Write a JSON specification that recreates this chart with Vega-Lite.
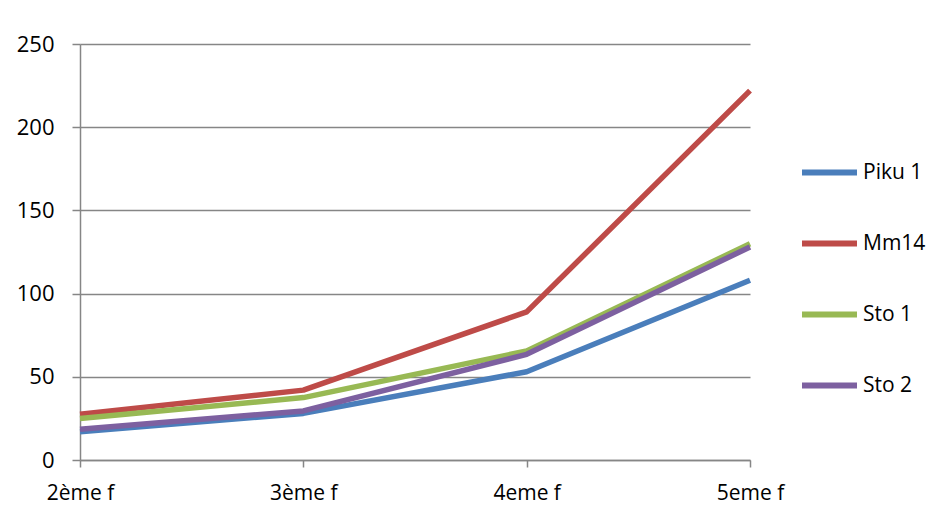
{
  "$schema": "https://vega.github.io/schema/vega-lite/v6.json",
  "width": 670,
  "height": 416,
  "autosize": {"type": "none"},
  "padding": {"left": 80, "top": 44, "right": 185, "bottom": 50},
  "background": "white",
  "config": {
    "view": {"stroke": null},
    "font": "Open Sans",
    "axis": {"labelFont": "Open Sans", "labelColor": "#000000", "domainColor": "#868686", "tickColor": "#868686", "gridColor": "#868686", "domainWidth": 1.5, "tickWidth": 1.5, "gridWidth": 1.5}
  },
  "data": {
    "values": [
      {"etage": "2ème f", "serie": "Piku 1", "valeur": 17},
      {"etage": "3ème f", "serie": "Piku 1", "valeur": 28},
      {"etage": "4eme f", "serie": "Piku 1", "valeur": 53},
      {"etage": "5eme f", "serie": "Piku 1", "valeur": 108},
      {"etage": "2ème f", "serie": "Mm14", "valeur": 27.5},
      {"etage": "3ème f", "serie": "Mm14", "valeur": 42},
      {"etage": "4eme f", "serie": "Mm14", "valeur": 89},
      {"etage": "5eme f", "serie": "Mm14", "valeur": 222},
      {"etage": "2ème f", "serie": "Sto 1", "valeur": 25},
      {"etage": "3ème f", "serie": "Sto 1", "valeur": 37.5},
      {"etage": "4eme f", "serie": "Sto 1", "valeur": 65.5},
      {"etage": "5eme f", "serie": "Sto 1", "valeur": 130},
      {"etage": "2ème f", "serie": "Sto 2", "valeur": 18.5},
      {"etage": "3ème f", "serie": "Sto 2", "valeur": 29.5},
      {"etage": "4eme f", "serie": "Sto 2", "valeur": 63.5},
      {"etage": "5eme f", "serie": "Sto 2", "valeur": 128}
    ]
  },
  "mark": {"type": "line", "strokeWidth": 5.5, "strokeJoin": "round", "strokeCap": "butt"},
  "encoding": {
    "x": {
      "field": "etage",
      "type": "ordinal",
      "sort": ["2ème f", "3ème f", "4eme f", "5eme f"],
      "scale": {"type": "point", "padding": 0},
      "axis": {"title": null, "labelAngle": 0, "labelFontSize": 21, "tickSize": 7, "labelPadding": 15, "grid": false}
    },
    "y": {
      "field": "valeur",
      "type": "quantitative",
      "scale": {"domain": [0, 250], "nice": false},
      "axis": {"title": null, "values": [0, 50, 100, 150, 200, 250], "labelFontSize": 22, "tickSize": 8, "labelPadding": 18, "grid": true}
    },
    "color": {
      "field": "serie",
      "type": "nominal",
      "sort": ["Piku 1", "Mm14", "Sto 1", "Sto 2"],
      "scale": {"domain": ["Piku 1", "Mm14", "Sto 1", "Sto 2"], "range": ["#4a7ebb", "#be4b48", "#98b954", "#7d60a0"]},
      "legend": {
        "title": null,
        "orient": "none",
        "legendX": 719,
        "legendY": 98,
        "padding": 0,
        "symbolType": "stroke",
        "symbolSize": 3025,
        "symbolStrokeWidth": 6,
        "labelFontSize": 21,
        "labelFont": "Open Sans",
        "labelColor": "#000000",
        "labelOffset": 3,
        "rowPadding": 28
      }
    }
  }
}
